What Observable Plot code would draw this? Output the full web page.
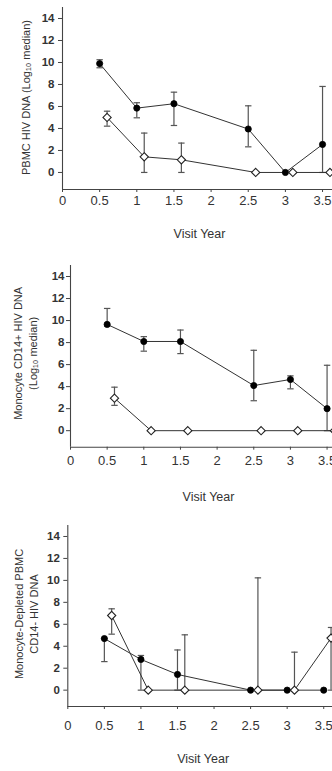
<!DOCTYPE html>
<html>
<head>
<meta charset="utf-8">
<script src="https://cdn.jsdelivr.net/npm/d3@7"></script>
<script src="https://cdn.jsdelivr.net/npm/@observablehq/plot@0.6"></script>
<style>
  html, body { margin: 0; padding: 0; background: #fff; }
  #charts svg { display: block; }
</style>
</head>
<body>
<div id="charts"></div>
<script>
// ---------- data ----------
const visitFilled = [0.5, 1, 1.5, 2.5, 3, 3.5];
const visitOpen   = [0.6, 1.1, 1.6, 2.6, 3.1, 3.6];

const xTicks = [0, 0.5, 1, 1.5, 2, 2.5, 3, 3.5];
const xTickLabels = ["0", "0.5", "1", "1.5", "2", "2.5", "3", "3.5"];
const yTicks = [0, 2, 4, 6, 8, 10, 12, 14];
const yTickLabels = ["0", "2", "4", "6", "8", "10", "12", "14"];
const xTitle = "Visit Year";

// Panel 1: PBMC HIV DNA
const p1Title = "PBMC HIV DNA (Log\u2081\u2080 median)";
const p1Filled   = [9.9, 5.85, 6.25, 3.95, 0, 2.55];
const p1FilledLo = [9.52, 4.97, 4.27, 2.33, null, 0];
const p1FilledHi = [10.25, 6.34, 7.3, 6.06, null, 7.82];
const p1Open     = [5.0, 1.42, 1.15, 0, 0, 0];
const p1OpenLo   = [4.21, 0, 0, null, null, null];
const p1OpenHi   = [5.57, 3.58, 2.67, null, null, null];

// Panel 2: Monocyte CD14+ HIV DNA
const p2Title = "Monocyte CD14+ HIV DNA\n(Log\u2081\u2080 median)";
const p2Filled   = [9.65, 8.1, 8.1, 4.1, 4.65, 2.0];
const p2FilledLo = [9.5, 7.22, 7.0, 2.72, 3.8, 0];
const p2FilledHi = [11.1, 8.54, 9.14, 7.3, 4.98, 5.94];
const p2Open     = [2.95, 0, 0, 0, 0, 0];
const p2OpenLo   = [2.3, null, null, null, null, null];
const p2OpenHi   = [3.95, null, null, null, null, null];

// Panel 3: Monocyte-Depleted PBMC CD14- HIV DNA
const p3Title = "Monocyte-Depleted PBMC\nCD14- HIV DNA";
const p3Filled   = [4.7, 2.8, 1.43, 0, 0, 0];
const p3FilledLo = [2.6, 0, 0, null, null, null];
const p3FilledHi = [4.7, 3.16, 3.66, null, null, null];
const p3Open     = [6.8, 0, 0, 0, 0, 4.74];
const p3OpenLo   = [5.1, null, 0, 0, 0, 0];
const p3OpenHi   = [7.41, null, 5.04, 10.23, 3.46, 5.71];

// ---------- helpers ----------
const FONT = "'Liberation Sans', Arial, Helvetica, sans-serif";
const capSymbol = {
  draw(context, size) {
    const r = Math.sqrt(size / Math.PI);
    context.moveTo(-r, 0);
    context.lineTo(r, 0);
  }
};

function series(xs, vals, lo, hi) {
  return xs.map((x, i) => ({x, y: vals[i], lo: lo[i], hi: hi[i]}));
}

function panel(cfg) {
  const filled = series(visitFilled, cfg.filled, cfg.filledLo, cfg.filledHi);
  const open = series(visitOpen, cfg.open, cfg.openLo, cfg.openHi);
  const bars = [...filled, ...open].filter(d => d.lo != null && d.hi != null);
  const caps = [];
  bars.forEach(d => { caps.push({x: d.x, y: d.lo}); caps.push({x: d.x, y: d.hi}); });
  const yMin = cfg.yMin;
  return Plot.plot({
    width: 332,
    height: cfg.height,
    marginLeft: cfg.marginLeft,
    marginRight: 0,
    marginTop: cfg.marginTop,
    marginBottom: cfg.marginBottom,
    style: {fontFamily: FONT, background: "#fff", color: "#333", overflow: "hidden"},
    x: {domain: [0, cfg.xMax]},
    y: {domain: [yMin, 15]},
    marks: [
      Plot.ruleX([0], {stroke: "#444", strokeWidth: 1.1}),
      Plot.ruleY([yMin], {stroke: "#444", strokeWidth: 1.1}),
      Plot.axisX({
        ticks: xTicks,
        tickFormat: d => xTickLabels[xTicks.indexOf(d)],
        tickSize: 3, tickPadding: cfg.xPad, fontSize: 13, label: null,
        stroke: "#444", fill: "#333"
      }),
      Plot.axisY({
        ticks: yTicks,
        tickFormat: d => yTickLabels[yTicks.indexOf(d)],
        tickSize: 4, tickPadding: cfg.yPad, fontSize: 11.5, fontWeight: "bold",
        label: null, stroke: "#444", fill: "#333"
      }),
      Plot.text([xTitle], {frameAnchor: "bottom", lineAnchor: "middle", textAnchor: "middle",
        dy: cfg.xTitleDy, dx: cfg.xTitleDx, fontSize: 12.5, fill: "#333"}),
      Plot.text([cfg.title], {frameAnchor: "left", rotate: -90, textAnchor: "middle", lineAnchor: "middle",
        dx: cfg.yTitleDx, dy: cfg.yTitleDy, fontSize: 11, lineHeight: cfg.lineHeight, fill: "#333"}),
      Plot.ruleX(bars, {x: "x", y1: "lo", y2: "hi", stroke: "#555", strokeWidth: 1.2}),
      Plot.dot(caps, {x: "x", y: "y", symbol: capSymbol, r: 3.2, stroke: "#555", strokeWidth: 1.2}),
      Plot.line(filled, {x: "x", y: "y", stroke: "#333", strokeWidth: 1}),
      Plot.line(open, {x: "x", y: "y", stroke: "#333", strokeWidth: 1}),
      Plot.dot(filled, {x: "x", y: "y", r: 3.1, fill: "#000", stroke: "#000", strokeWidth: 0.8}),
      Plot.dot(open, {x: "x", y: "y", symbol: "diamond2", r: 3.7, fill: "#fff", stroke: "#222", strokeWidth: 1.1})
    ]
  });
}

const host = document.getElementById("charts");
host.append(panel({
  title: p1Title, filled: p1Filled, filledLo: p1FilledLo, filledHi: p1FilledHi,
  open: p1Open, openLo: p1OpenLo, openHi: p1OpenHi,
  height: 258, marginLeft: 62, marginTop: 7, marginBottom: 69, xMax: 3.634, yMin: -1.55,
  xPad: 3, yPad: 4, xTitleDy: 44, xTitleDx: 2, yTitleDx: -37, yTitleDy: -1, lineHeight: 1.2
}));
host.append(panel({
  title: p2Title, filled: p2Filled, filledLo: p2FilledLo, filledHi: p2FilledHi,
  open: p2Open, openLo: p2OpenLo, openHi: p2OpenHi,
  height: 252, marginLeft: 70, marginTop: 7, marginBottom: 63.3, xMax: 3.574, yMin: -1.5,
  xPad: 6, yPad: 2, xTitleDy: 50, xTitleDx: 7, yTitleDx: -45.5, yTitleDy: -3, lineHeight: 1.36
}));
host.append(panel({
  title: p3Title, filled: p3Filled, filledLo: p3FilledLo, filledHi: p3FilledHi,
  open: p3Open, openLo: p3OpenLo, openHi: p3OpenHi,
  height: 261, marginLeft: 67.3, marginTop: 15, marginBottom: 65, xMax: 3.62, yMin: -1.49,
  xPad: 11, yPad: 4, xTitleDy: 52, xTitleDx: 3, yTitleDx: -41.8, yTitleDy: -2, lineHeight: 1.36
}));
</script>
</body>
</html>
